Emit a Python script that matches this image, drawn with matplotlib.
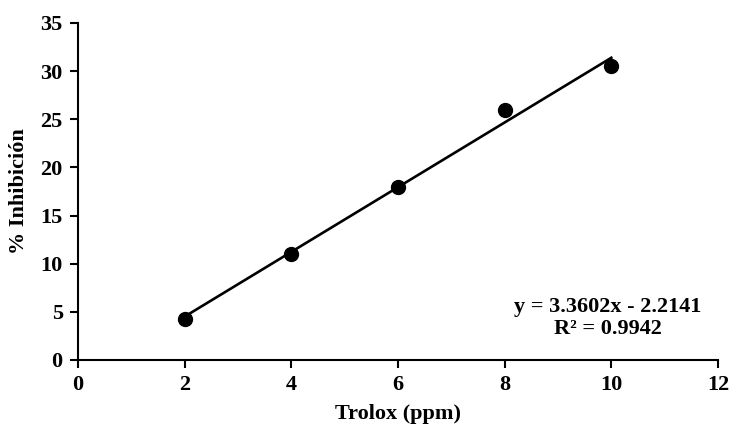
import matplotlib
matplotlib.use("Agg")
import matplotlib.pyplot as plt
import numpy as np

trolox_ppm = [2, 4, 6, 8, 10]
inhibicion = [4.3, 11.0, 18.0, 26.0, 30.5]
x_ticks = [0, 2, 4, 6, 8, 10, 12]
y_ticks = [0, 5, 10, 15, 20, 25, 30, 35]
equation_text = "y = 3.3602x - 2.2141\nR\u00b2 = 0.9942"

plt.rcParams['font.family'] = ['Liberation Serif', 'DejaVu Serif']
plt.rcParams['font.weight'] = 'bold'

fig = plt.figure(figsize=(7.33, 4.32), dpi=100)
ax = fig.add_axes([0.1064, 0.1667, 0.8731, 0.7801])

x = np.array(trolox_ppm, dtype=float)
y = np.array(inhibicion, dtype=float)
slope, intercept = 3.3602, -2.2141
xl = np.array([x.min(), x.max()])
ax.plot(xl, slope * xl + intercept, color='black', lw=1.9, zorder=2)
ax.plot(x, y, 'o', color='black', ms=10, zorder=3)

ax.set_xlim(0, 12)
ax.set_ylim(0, 35)
ax.set_xticks(x_ticks)
ax.set_yticks(y_ticks)
ax.tick_params(axis='both', labelsize=16, width=1.5, length=6, direction='out', pad=5)
for lbl in ax.get_xticklabels() + ax.get_yticklabels():
    lbl.set_fontweight('bold')
for s in ['top', 'right']:
    ax.spines[s].set_visible(False)
for s in ['left', 'bottom']:
    ax.spines[s].set_linewidth(1.5)

ax.set_xlabel('Trolox (ppm)', fontsize=16, fontweight='bold', labelpad=6)
ax.set_ylabel('% Inhibición', fontsize=16, fontweight='bold', labelpad=8)

ax.text(9.94, 4.35, equation_text, ha='center', va='center', fontsize=16,
        fontweight='bold', linespacing=1.1)

fig.savefig('out.png', dpi=100)
